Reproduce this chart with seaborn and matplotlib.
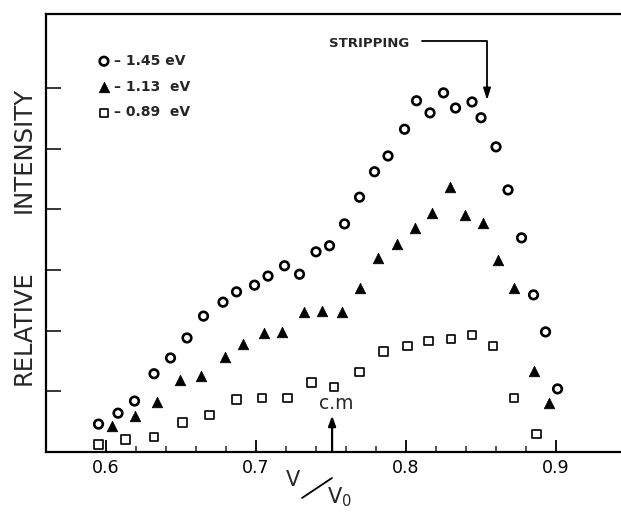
import matplotlib
matplotlib.use("Agg")
import matplotlib.pyplot as plt
import seaborn as sns
import numpy as np
import pandas as pd
from matplotlib.lines import Line2D
from matplotlib.ticker import FixedLocator

# ---- data ----
circ_x = [0.595, 0.608, 0.619, 0.632, 0.643, 0.654, 0.665, 0.678, 0.687, 0.699,
          0.708, 0.719, 0.729, 0.740, 0.749, 0.759, 0.769, 0.779, 0.788, 0.799,
          0.807, 0.816, 0.825, 0.833, 0.844, 0.850, 0.860, 0.868, 0.877, 0.885,
          0.893, 0.901]
circ_y = [0.46, 0.64, 0.84, 1.29, 1.55, 1.88, 2.24, 2.47, 2.64, 2.75,
          2.90, 3.07, 2.93, 3.30, 3.40, 3.76, 4.20, 4.62, 4.88, 5.32,
          5.79, 5.59, 5.92, 5.67, 5.77, 5.51, 5.03, 4.32, 3.53, 2.59,
          1.98, 1.04]

tri_x = [0.604, 0.619, 0.634, 0.649, 0.663, 0.679, 0.691, 0.705, 0.717, 0.732,
         0.744, 0.757, 0.769, 0.781, 0.794, 0.806, 0.817, 0.829, 0.839, 0.851,
         0.861, 0.872, 0.885, 0.895]
tri_y = [0.43, 0.59, 0.82, 1.19, 1.25, 1.57, 1.78, 1.96, 1.98, 2.31,
         2.32, 2.31, 2.70, 3.20, 3.43, 3.69, 3.94, 4.37, 3.91, 3.77,
         3.16, 2.70, 1.34, 0.81]

sq_x = [0.595, 0.613, 0.632, 0.651, 0.669, 0.687, 0.704, 0.721, 0.737, 0.752,
        0.769, 0.785, 0.801, 0.815, 0.830, 0.844, 0.858, 0.872, 0.887]
sq_y = [0.12, 0.21, 0.25, 0.49, 0.61, 0.87, 0.89, 0.89, 1.15, 1.07,
        1.32, 1.66, 1.75, 1.83, 1.86, 1.93, 1.75, 0.89, 0.30]

series_labels = ["\u2013 1.45 eV", "\u2013 1.13  eV", "\u2013 0.89  eV"]
xtick_vals = [0.6, 0.7, 0.8, 0.9]
xtick_labels = ["0.6", "0.7", "0.8", "0.9"]
xminor_vals = [0.62, 0.64, 0.66, 0.68, 0.72, 0.74, 0.76, 0.78,
               0.82, 0.84, 0.86, 0.88]
ytick_vals = [1, 2, 3, 4, 5, 6]
cm_x = 0.7507
strip_x = 0.854

sns.set_style("ticks")
plt.rcParams["font.family"] = ["DejaVu Sans"]

fig = plt.figure(figsize=(6.21, 5.12), dpi=100)
ax = fig.add_axes([46 / 621, 60 / 512, 575 / 621, 438 / 512])

sns.scatterplot(x=circ_x, y=circ_y, ax=ax, marker="o", s=38,
                facecolor="none", edgecolor="black", linewidth=1.9,
                label=series_labels[0])
sns.scatterplot(x=tri_x, y=tri_y, ax=ax, marker="^", s=58,
                color="black", edgecolor="black", linewidth=0.5,
                label=series_labels[1])
sns.scatterplot(x=sq_x, y=sq_y, ax=ax, marker="s", s=38,
                facecolor="none", edgecolor="black", linewidth=1.2,
                label=series_labels[2])

ax.set_xlim(0.56, 0.9433)
ax.set_ylim(0, 7.22)
ax.set_xticks(xtick_vals)
ax.set_xticklabels(xtick_labels)
ax.xaxis.set_minor_locator(FixedLocator(xminor_vals))
ax.set_yticks(ytick_vals)
ax.set_yticklabels([])
ax.tick_params(axis="x", which="major", direction="in", length=8.5, width=1.3,
               labelsize=12.5, pad=5, colors="black")
ax.tick_params(axis="x", which="minor", direction="in", length=4, width=1.1)
ax.tick_params(axis="y", which="major", direction="in", length=11, width=1.3)
ax.set_xlabel("")
ax.set_ylabel("")
for side in ["left", "bottom", "top"]:
    ax.spines[side].set_linewidth(1.6)
    ax.spines[side].set_color("black")
ax.spines["right"].set_visible(False)

leg = ax.legend(loc="upper left", bbox_to_anchor=(0.0887, 0.909),
                frameon=False, borderpad=0, borderaxespad=0,
                handlelength=1.0, handletextpad=0.2, labelspacing=0.85,
                prop={"weight": "bold", "size": 10}, scatterpoints=1)

# STRIPPING annotation
ax.text(0.7753, 6.74, "STRIPPING", ha="center", va="center",
        fontsize=9.5, fontweight="bold")
ax.annotate("", xy=(strip_x, 5.80), xytext=(0.8107, 6.775),
            arrowprops=dict(arrowstyle="-|>,head_length=0.7,head_width=0.22",
                            connectionstyle="angle,angleA=0,angleB=90,rad=0",
                            color="black", lw=1.3, shrinkA=0, shrinkB=0))

# c.m. annotation
ax.annotate("", xy=(cm_x, 0.60), xytext=(cm_x, 0.0),
            arrowprops=dict(arrowstyle="-|>,head_length=0.6,head_width=0.22",
                            color="black", lw=1.6, shrinkA=0, shrinkB=0))
ax.text(0.7533, 0.64, "c.m", ha="center", va="bottom", fontsize=13.5)

# y label
fig.text(24 / 621, 1 - 328 / 512, "RELATIVE", rotation=90, ha="center",
         va="center", fontsize=17.5)
fig.text(24 / 621, 1 - 150 / 512, "INTENSITY", rotation=90, ha="center",
         va="center", fontsize=17.5)

# x label  V / V0
fig.text(293 / 621, 1 - 480 / 512, "V", ha="center", va="center", fontsize=15)
fig.add_artist(Line2D([302 / 621, 332 / 621], [1 - 498 / 512, 1 - 478 / 512],
                      color="black", lw=1.3, transform=fig.transFigure))
fig.text(327 / 621, 1 - 497 / 512, r"V$_\mathregular{0}$", ha="left",
         va="center", fontsize=15)

fig.savefig("out.png", dpi=100, facecolor="white")
